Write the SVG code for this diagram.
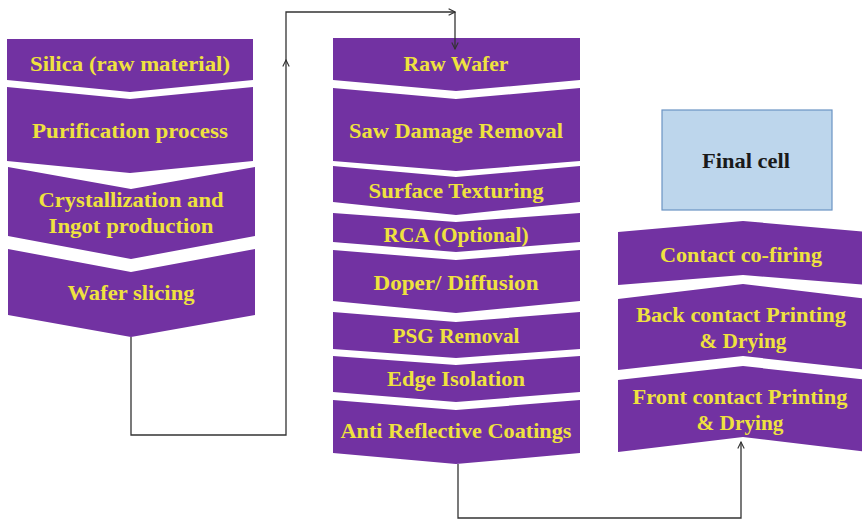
<svg xmlns="http://www.w3.org/2000/svg" width="862" height="519" viewBox="0 0 862 519">
<style>
.ch{fill:#7232a2;}
.t{font-family:"Liberation Serif","DejaVu Serif",serif;font-weight:bold;font-size:21px;fill:#efe23e;text-anchor:middle;}
.fc{font-family:"Liberation Serif","DejaVu Serif",serif;font-weight:bold;font-size:21px;fill:#1a1a1a;text-anchor:middle;}
.ln{fill:none;stroke:#333;stroke-width:1.3;}
</style>
<defs>
<marker id="ah" viewBox="0 0 10 10" refX="9" refY="5" markerWidth="8" markerHeight="8" markerUnits="userSpaceOnUse" orient="auto">
<path d="M1,1 L9,5 L1,9" fill="none" stroke="#333" stroke-width="1.4"/>
</marker>
</defs>
<rect width="862" height="519" fill="#fff"/>

<g id="silica"><path class="ch" d="M7,39 H253 V80 L130,92 L7,80 Z"/><text class="t" x="130" y="71" textLength="200" lengthAdjust="spacingAndGlyphs">Silica (raw material)</text></g>
<g id="purification"><path class="ch" d="M7,87 L130,99 L253,87 V161 L130,173 L7,161 Z"/><text class="t" x="130" y="138" textLength="196" lengthAdjust="spacingAndGlyphs">Purification process</text></g>
<g id="crystallization"><path class="ch" d="M8,167 L131,189 L255,167 V236 L131,259 L8,236 Z"/><text class="t" x="131" y="207" textLength="185" lengthAdjust="spacingAndGlyphs">Crystallization and</text><text class="t" x="131" y="233" textLength="165" lengthAdjust="spacingAndGlyphs">Ingot production</text></g>
<g id="wafer-slicing"><path class="ch" d="M8,249 L131,272 L255,249 V315 L131,337 L8,315 Z"/><text class="t" x="131" y="300" textLength="127" lengthAdjust="spacingAndGlyphs">Wafer slicing</text></g>

<g id="raw-wafer"><path class="ch" d="M333,38 H580 V80 L456,91 L333,80 Z"/><text class="t" x="456" y="71" textLength="105" lengthAdjust="spacingAndGlyphs">Raw Wafer</text></g>
<g id="saw-damage"><path class="ch" d="M333,88 L456,99 L580,88 V161 L456,171 L333,161 Z"/><text class="t" x="456" y="138" textLength="214" lengthAdjust="spacingAndGlyphs">Saw Damage Removal</text></g>
<g id="texturing"><path class="ch" d="M333,166 L456,177 L580,166 V202 L456,215 L333,202 Z"/><text class="t" x="456" y="198" textLength="175" lengthAdjust="spacingAndGlyphs">Surface Texturing</text></g>
<g id="rca"><path class="ch" d="M333,213 L456,222 L580,213 V242 L456,252 L333,242 Z"/><text class="t" x="456" y="242" textLength="145" lengthAdjust="spacingAndGlyphs">RCA (Optional)</text></g>
<g id="doper"><path class="ch" d="M333,250 L456,260 L580,250 V301 L456,313 L333,301 Z"/><text class="t" x="456" y="290" textLength="165" lengthAdjust="spacingAndGlyphs">Doper/ Diffusion</text></g>
<g id="psg"><path class="ch" d="M333,312 L456,322 L580,312 V349 L456,358 L333,349 Z"/><text class="t" x="456" y="343" textLength="127" lengthAdjust="spacingAndGlyphs">PSG Removal</text></g>
<g id="edge"><path class="ch" d="M333,356 L456,365 L580,356 V392 L456,402 L333,392 Z"/><text class="t" x="456" y="386" textLength="138" lengthAdjust="spacingAndGlyphs">Edge Isolation</text></g>
<g id="arc"><path class="ch" d="M333,400 L456,410 L580,400 V453 L456,464 L333,453 Z"/><text class="t" x="456" y="438" textLength="231" lengthAdjust="spacingAndGlyphs">Anti Reflective Coatings</text></g>

<g id="final-cell"><rect x="662" y="110" width="170" height="100" fill="#bdd6ec" stroke="#6a93c4" stroke-width="1.2"/><text class="fc" x="746" y="168" textLength="88" lengthAdjust="spacingAndGlyphs">Final cell</text></g>
<g id="co-firing"><path class="ch" d="M618,232 L743,221 L868,232 V285 L743,275 L618,285 Z"/><text class="t" x="741" y="262" textLength="162" lengthAdjust="spacingAndGlyphs">Contact co-firing</text></g>
<g id="back-contact"><path class="ch" d="M618,299 L743,284 L868,299 V370 L743,356 L618,370 Z"/><text class="t" x="741" y="322" textLength="210" lengthAdjust="spacingAndGlyphs">Back contact Printing</text><text class="t" x="743" y="348" textLength="87" lengthAdjust="spacingAndGlyphs">&amp; Drying</text></g>
<g id="front-contact"><path class="ch" d="M618,380 L743,366 L868,380 V452 L743,437 L618,452 Z"/><text class="t" x="740" y="404" textLength="215" lengthAdjust="spacingAndGlyphs">Front contact Printing</text><text class="t" x="740" y="430" textLength="87" lengthAdjust="spacingAndGlyphs">&amp; Drying</text></g>

<g id="connectors">
<path class="ln" d="M131,337 V435 H286 V60" marker-end="url(#ah)"/>
<path class="ln" d="M286,62 V12 H455" marker-end="url(#ah)"/>
<path class="ln" d="M455,12 V49" marker-end="url(#ah)"/>
<path class="ln" d="M458,464 V518 H741 V442" marker-end="url(#ah)"/>
</g>
</svg>
